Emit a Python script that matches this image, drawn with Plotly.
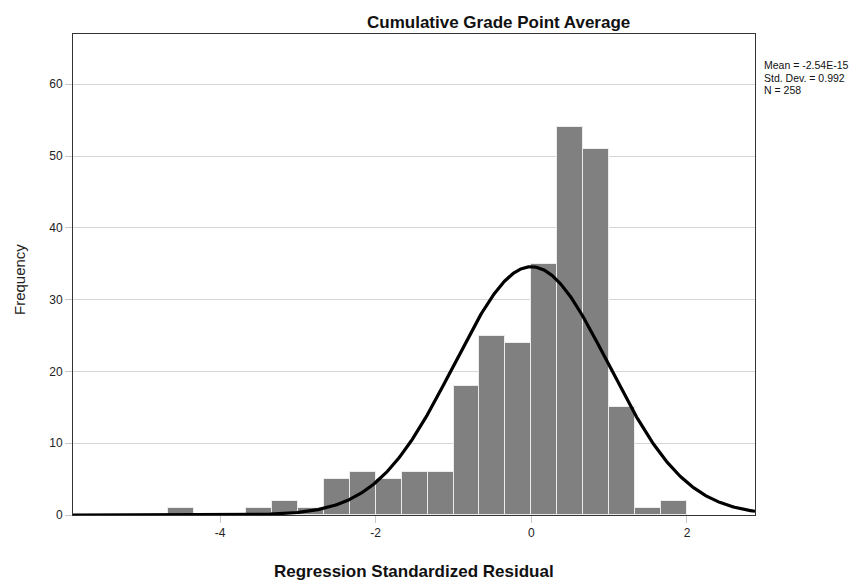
import numpy as np
import plotly.graph_objects as go

# ---- data ----
bin_width = 1.0 / 3.0
bin_left_edges = [-14/3, -13/3, -12/3, -11/3, -10/3, -9/3, -8/3, -7/3, -6/3, -5/3,
                  -4/3, -3/3, -2/3, -1/3, 0/3, 1/3, 2/3, 3/3, 4/3, 5/3]
counts = [1, 0, 0, 1, 2, 1, 5, 6, 5, 6,
          6, 18, 25, 24, 35, 54, 51, 15, 1, 2]
stat_mean = -2.54e-15
stat_sd = 0.992
stat_n = 258
stats_lines = ["Mean = -2.54E-15", "Std. Dev. = 0.992", "N = 258"]
x_tickvals = [-4, -2, 0, 2]
y_tickvals = [0, 10, 20, 30, 40, 50, 60]
x_range = [-5.889, 2.874]
y_range = [0, 67]

centers = [e + bin_width / 2 for e in bin_left_edges]

# normal curve implied by the displayed statistics
xc = np.linspace(x_range[0], x_range[1], 600)
yc = stat_n * bin_width / (stat_sd * np.sqrt(2 * np.pi)) * np.exp(-0.5 * ((xc - stat_mean) / stat_sd) ** 2)

FONT = "Arial, Liberation Sans, sans-serif"

fig = go.Figure()
fig.add_trace(go.Bar(
    x=centers, y=counts, width=bin_width,
    marker=dict(color="#808080", line=dict(color="#ececec", width=1)),
    hoverinfo="x+y", showlegend=False,
))
fig.add_trace(go.Scatter(
    x=xc, y=yc, mode="lines",
    line=dict(color="black", width=3.2),
    hoverinfo="skip", showlegend=False, cliponaxis=True,
))

L, R, T, B = 73, 113, 34, 68
W, H = 868, 583
pw, ph = W - L - R, H - T - B

def px_to_paper_x(px):
    return (px - L) / pw

def px_to_paper_y(py):
    return (H - B - py) / ph

annotations = []
for txt, py in zip(stats_lines, [65, 77.5, 90]):
    annotations.append(dict(
        text=txt, x=px_to_paper_x(762), y=px_to_paper_y(py),
        xref="paper", yref="paper", xanchor="left", yanchor="middle",
        showarrow=False, font=dict(family=FONT, size=10.5, color="#111")))

annotations.append(dict(
    text="<b>Cumulative Grade Point Average</b>",
    x=px_to_paper_x(498), y=px_to_paper_y(22),
    xref="paper", yref="paper", xanchor="center", yanchor="middle",
    showarrow=False, font=dict(family=FONT, size=17, color="#111")))

annotations.append(dict(
    text="<b>Regression Standardized Residual</b>",
    x=0.5, y=px_to_paper_y(571),
    xref="paper", yref="paper", xanchor="center", yanchor="middle",
    showarrow=False, font=dict(family=FONT, size=17, color="#111")))

annotations.append(dict(
    text="Frequency", textangle=-90,
    x=px_to_paper_x(19), y=px_to_paper_y(280),
    xref="paper", yref="paper", xanchor="center", yanchor="middle",
    showarrow=False, font=dict(family=FONT, size=15, color="#222")))

fig.update_layout(
    width=W, height=H,
    margin=dict(l=L, r=R, t=T, b=B, pad=0),
    paper_bgcolor="white", plot_bgcolor="white",
    bargap=0,
    font=dict(family=FONT, size=12, color="#222"),
    annotations=annotations,
    xaxis=dict(
        range=x_range, tickvals=x_tickvals, ticktext=[str(v) for v in x_tickvals],
        showgrid=False, zeroline=False,
        showline=True, linecolor="#333", linewidth=1, mirror=True,
        ticks="outside", ticklen=7, tickcolor="#c8c8c8", tickwidth=1,
        tickfont=dict(family=FONT, size=12, color="#222"),
    ),
    yaxis=dict(
        range=y_range, tickvals=y_tickvals,
        showgrid=True, gridcolor="#d6d6d6", gridwidth=1, zeroline=False,
        showline=True, linecolor="#333", linewidth=1, mirror=True,
        ticks="outside", ticklen=7, tickcolor="#c8c8c8", tickwidth=1,
        tickfont=dict(family=FONT, size=12, color="#222"),
    ),
)

fig.write_html("out.html")
